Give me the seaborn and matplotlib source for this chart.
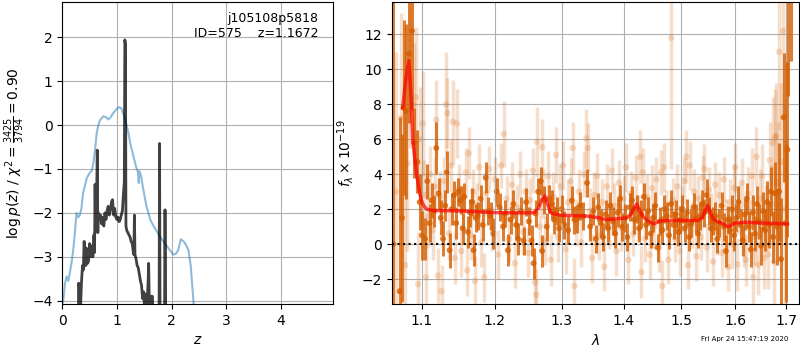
import matplotlib
matplotlib.use("Agg")
import numpy as np
import pandas as pd
import matplotlib.pyplot as plt
import seaborn as sns
from matplotlib.ticker import NullLocator

# ---------------- left panel: redshift PDF ----------------
z_pz = [0.295, 0.300, 0.310, 0.315, 0.33, 0.35, 0.37, 0.385, 0.40, 0.41, 0.43, 0.44, 0.46, 0.48,
        0.50, 0.52, 0.54, 0.56, 0.58, 0.59, 0.60, 0.61, 0.625, 0.64, 0.65, 0.66, 0.68, 0.70, 0.72,
        0.74, 0.76, 0.78, 0.80, 0.82, 0.84, 0.86, 0.88, 0.90, 0.92, 0.94, 0.96, 0.98, 1.00, 1.02,
        1.04, 1.06, 1.08, 1.10, 1.12, 1.135, 1.145, 1.155, 1.165, 1.18, 1.20, 1.22, 1.24, 1.26,
        1.28, 1.30, 1.31, 1.32, 1.33, 1.35, 1.37, 1.39, 1.41, 1.43, 1.45, 1.47, 1.49, 1.51, 1.53,
        1.55, 1.57, 1.58, 1.59, 1.61, 1.63, 1.65, 1.67, 1.77, 1.78, 1.79, 1.87, 1.88, 1.895]
logp_pz = [-5.0, -3.6, -3.7, -5.0, -4.3, -3.6, -3.2, -3.3, -2.65, -3.0, -3.2, -2.8, -3.15, -3.1,
           -2.7, -3.0, -2.75, -3.0, -2.5, -2.9, -1.35, -2.4, -1.9, -0.57, -2.45, -2.0, -2.15, -2.05,
           -2.25, -2.1, -2.3, -2.0, -2.15, -1.95, -1.85, -2.05, -1.95, -1.75, -1.7, -2.05, -1.9,
           -2.1, -2.15, -2.1, -2.2, -2.15, -2.05, -1.95, -1.55, -1.3, 1.94, 1.85, -2.3, -2.4, -2.45,
           -2.5, -2.55, -2.65, -2.7, -2.9, -2.95, -2.05, -2.95, -3.05, -3.2, -3.25, -3.4, -3.55,
           -3.65, -3.95, -3.8, -4.3, -3.85, -4.1, -3.6, -3.15, -3.85, -4.2, -3.9, -3.9, -5.0, -5.0,
           -0.42, -5.0, -5.0, -1.93, -5.0]

z_prior = [0.0, 0.02, 0.05, 0.08, 0.11, 0.14, 0.17, 0.20, 0.23, 0.26, 0.29, 0.32, 0.35, 0.38,
           0.45, 0.51, 0.54, 0.57, 0.60, 0.63, 0.66, 0.69, 0.75, 0.80, 0.84, 0.88, 0.93, 0.99,
           1.04, 1.08, 1.12, 1.16, 1.21, 1.25, 1.30, 1.35, 1.38, 1.40, 1.41, 1.44, 1.48, 1.54,
           1.61, 1.67, 1.73, 1.79, 1.85, 1.91, 1.97, 2.03, 2.08, 2.12, 2.17, 2.22, 2.26, 2.31,
           2.35, 2.40, 2.45]
logp_prior = [-4.1, -3.98, -3.6, -3.45, -3.55, -3.35, -3.13, -2.85, -2.45, -2.0, -2.1, -2.05,
              -1.9, -1.55, -1.2, -1.07, -1.04, -0.85, -0.55, -0.18, 0.0, 0.11, 0.2, 0.18, 0.13,
              0.17, 0.27, 0.36, 0.41, 0.38, 0.25, 0.08, -0.18, -0.45, -0.7, -0.95, -1.05, -1.32,
              -1.05, -1.15, -1.45, -1.85, -2.15, -2.3, -2.42, -2.55, -2.65, -2.75, -2.85, -2.95,
              -2.93, -2.85, -2.6, -2.65, -2.72, -2.85, -3.2, -4.0, -5.0]

# ---------------- right panel: spectrum ----------------
wave_dark = [1.063, 1.071, 1.074, 1.076, 1.079, 1.083, 1.087, 1.090, 1.094, 1.097,
             1.100, 1.104, 1.107, 1.110, 1.113, 1.116, 1.119, 1.122, 1.125, 1.128, 1.131, 1.133,
             1.137, 1.140, 1.143, 1.146, 1.149, 1.152, 1.155, 1.157, 1.162, 1.165, 1.168, 1.170,
             1.173, 1.176, 1.180, 1.183, 1.187, 1.191, 1.194, 1.198, 1.203, 1.207, 1.212, 1.215,
             1.219, 1.223, 1.227, 1.231, 1.234, 1.238, 1.242, 1.246, 1.250, 1.254, 1.257, 1.260,
             1.264, 1.268, 1.270, 1.273, 1.277, 1.281, 1.285, 1.288, 1.292, 1.296, 1.300, 1.304,
             1.310, 1.316, 1.320, 1.324, 1.329, 1.334, 1.340, 1.345, 1.350, 1.354, 1.358, 1.362,
             1.366, 1.370, 1.374, 1.378, 1.382, 1.386, 1.390, 1.394, 1.398, 1.402, 1.406, 1.410,
             1.414, 1.418, 1.422, 1.426, 1.430, 1.434, 1.438, 1.442, 1.446, 1.450, 1.454, 1.458,
             1.462, 1.466, 1.470, 1.474, 1.478, 1.482, 1.486, 1.490, 1.494, 1.498, 1.502, 1.506,
             1.510, 1.514, 1.518, 1.522, 1.526, 1.530, 1.534, 1.538, 1.542, 1.546, 1.550, 1.554,
             1.558, 1.562, 1.566, 1.570, 1.574, 1.578, 1.582, 1.586, 1.590, 1.594, 1.598, 1.602,
             1.606, 1.610, 1.614, 1.618, 1.622, 1.626, 1.630, 1.634, 1.638, 1.642, 1.646, 1.650,
             1.654, 1.658, 1.662, 1.666, 1.670, 1.674, 1.678, 1.682, 1.686, 1.690, 1.695, 1.699,
             1.703, 1.705, 1.710]
flux_dark = [0.0, -2.7, 1.5, 7.8, 7.6, 10.9, 12.2, 5.8, 4.7, 2.4,
             0.5, 0.3, 3.6, 1.2, 2.5, 1.9, 5.5, 2.9, 1.5, 0.3, 2.2, 4.1,
             -0.35, 2.0, 2.8, 1.2, 3.0, 2.5, 0.9, 2.7, 0.7, 1.8, 2.4, -0.35,
             1.5, 1.6, 2.6, 1.1, 3.8, 1.9, 1.6, 0.6, 3.0, 2.1, 1.0, 1.75,
             -0.35, 1.4, 2.3, 1.1, 0.3, 1.9, 0.2, 2.4, 1.3, 0.2, -1.1, 1.75,
             3.0, 3.6, -0.4, 2.5, 1.0, 2.6, 2.3, 1.4, 1.9, 0.9, 2.0, 1.1,
             0.8, 2.5, 1.4, 1.45, 2.2, 1.6, 3.5, 1.0, 1.9, 0.3, 2.1, 1.2,
             0.4, 1.7, 0.9, 2.2, 1.3, 0.6, 1.8, 2.6, 1.0, 1.5, 0.4, 2.1,
             2.5, 1.4, 2.0, 0.9, 1.7, 2.7, 1.1, 1.9, 0.6, 1.5, 2.2, -0.2,
             1.3, 0.8, 2.0, 1.6, 0.5, 2.3, 1.1, 1.7, 0.7, 1.4, 2.0, 0.9,
             1.8, 0.4, 1.2, 2.1, 1.5, 0.6, 1.6, 2.3, 1.8, 2.8, 1.9, 0.9,
             1.3, 1.6, 0.3, 1.2, 2.2, 1.0, -0.4, 1.4, 0.8, 2.0, 0.5, 1.5,
             2.4, 1.1, 0.2, 1.7, 2.6, 1.0, -0.3, 1.8, 0.6, 2.3, 1.3, -0.1,
             1.9, 0.8, 2.4, 1.1, 3.0, 0.4, 2.9, 1.0, 3.0, -0.86, 7.25, 1.2,
             5.4, 16.0, 17.0]
err_dark = [15.0, 10.0, 4.8, 5.0, 5.0, 4.0, 4.5, 2.0, 1.8, 1.6,
            1.4, 1.2, 1.0, 1.1, 1.0, 0.9, 1.5, 0.9, 1.0, 1.0, 0.9, 1.2,
            1.0, 0.9, 0.8, 0.9, 0.8, 0.8, 0.9, 0.8, 0.9, 0.8, 0.8, 0.9,
            0.8, 0.8, 0.8, 0.9, 0.9, 0.8, 0.8, 0.9, 0.8, 0.8, 0.8, 0.8,
            0.9, 0.8, 0.8, 0.8, 0.9, 0.8, 0.8, 0.8, 0.8, 0.9, 0.9, 0.8,
            0.8, 0.8, 0.9, 0.8, 0.8, 0.8, 0.8, 0.8, 0.8, 0.8, 0.8, 0.8,
            0.8, 0.8, 0.8, 0.8, 0.8, 0.8, 0.8, 0.8, 0.8, 0.8, 0.8, 0.8,
            0.8, 0.8, 0.8, 0.8, 0.8, 0.8, 0.8, 0.8, 0.8, 0.8, 0.8, 0.8,
            0.8, 0.8, 0.8, 0.8, 0.8, 0.8, 0.8, 0.8, 0.8, 0.8, 0.8, 0.8,
            0.8, 0.8, 0.8, 0.8, 0.8, 0.8, 0.8, 0.8, 0.8, 0.8, 0.8, 0.8,
            0.8, 0.8, 0.8, 0.8, 0.8, 0.8, 0.8, 0.8, 0.8, 0.9, 0.8, 0.8,
            0.8, 0.8, 0.8, 0.8, 0.8, 0.8, 0.9, 0.8, 0.8, 0.8, 0.9, 0.8,
            0.9, 0.9, 0.9, 0.9, 0.9, 0.9, 1.0, 1.0, 1.0, 1.0, 1.0, 1.1,
            1.1, 1.2, 1.2, 1.3, 1.4, 1.5, 1.8, 2.2, 2.8, 3.5, 3.7, 4.5,
            5.0, 7.5, 6.5]

wave_light = [1.066, 1.073, 1.078, 1.081, 1.085, 1.089, 1.092, 1.095, 1.098, 1.101, 1.103,
              1.105, 1.108, 1.111, 1.114, 1.117, 1.119, 1.121, 1.124, 1.126, 1.129, 1.132, 1.134,
              1.136, 1.139, 1.141, 1.144, 1.147, 1.150, 1.153, 1.156, 1.159, 1.161, 1.163, 1.166,
              1.169, 1.172, 1.175, 1.178, 1.181, 1.185, 1.188, 1.192, 1.196, 1.200, 1.205, 1.209,
              1.213, 1.217, 1.221, 1.225, 1.229, 1.233, 1.237, 1.241, 1.245, 1.249, 1.252, 1.256,
              1.259, 1.261, 1.262, 1.266, 1.270, 1.272, 1.275, 1.279, 1.283, 1.287, 1.291, 1.294,
              1.298, 1.302, 1.306, 1.310, 1.314, 1.317, 1.320, 1.323, 1.327, 1.331, 1.335, 1.339,
              1.341, 1.344, 1.348, 1.352, 1.356, 1.360, 1.364, 1.368, 1.372, 1.376, 1.380, 1.384,
              1.388, 1.392, 1.396, 1.400, 1.404, 1.408, 1.412, 1.416, 1.420, 1.424, 1.428, 1.430,
              1.432, 1.436, 1.440, 1.444, 1.448, 1.452, 1.456, 1.460, 1.464, 1.466, 1.469, 1.473,
              1.477, 1.482, 1.485, 1.489, 1.493, 1.497, 1.501, 1.505, 1.509, 1.512, 1.515, 1.519,
              1.523, 1.527, 1.531, 1.535, 1.539, 1.542, 1.546, 1.550, 1.554, 1.558, 1.562, 1.566,
              1.570, 1.574, 1.578, 1.582, 1.586, 1.590, 1.594, 1.598, 1.600, 1.604, 1.608, 1.612,
              1.616, 1.620, 1.624, 1.628, 1.632, 1.634, 1.638, 1.641, 1.644, 1.648, 1.652, 1.656,
              1.660, 1.664, 1.667, 1.670, 1.673, 1.676, 1.678, 1.680, 1.683, 1.686, 1.690, 1.694,
              1.698]
flux_light = [3.0, 7.2, -1.2, 4.6, 9.5, 8.0, 8.4, -2.3, 6.0, 6.9, 2.8,
              -1.9, 1.6, 4.0, 0.8, 3.3, 7.1, -1.8, 2.7, -2.7, 3.6, 8.0, 7.5,
              0.6, 4.5, 7.0, -0.8, 6.9, 3.2, -0.4, 1.9, 4.1, -1.5, 5.2, 0.5,
              3.0, -2.1, 2.2, 4.4, 0.1, -1.9, 2.9, 4.3, 0.9, 3.7, -0.6, 4.5,
              6.3, 2.6, 0.3, 3.4, -1.1, 2.1, 4.0, 0.7, 3.0, -0.5, 2.5, 4.2,
              -2.2, -2.9, 5.85, 1.0, 5.55, 2.9, 0.2, 3.9, -0.9, 2.7, 5.1, 0.4,
              3.3, 4.5, -0.3, 2.4, 3.6, 5.5, -2.4, 1.2, 3.0, 0.1, 4.0, 6.05,
              5.5, 1.9, -0.8, 2.8, 3.9, 0.5, 2.4, -1.3, 3.3, 1.0, 4.2, 2.2,
              -0.4, 3.5, 0.9, 2.6, 4.4, -0.9, 2.9, 0.6, 3.8, 1.5, 5.0, -1.6,
              4.1, 0.3, 2.7, -0.6, 3.2, 1.0, 3.7, -0.2, 4.1, -2.4, 4.4, 1.8,
              -0.9, 11.8, 2.5, 0.3, 3.3, -0.4, 2.0, 3.6, 5.0, -1.2, 4.5, 1.1,
              3.0, -0.7, 2.6, 0.4, 3.8, 4.3, -0.2, 3.1, 1.6, -1.0, 3.4, 0.7,
              2.8, -0.5, 3.7, 1.3, -1.3, 2.4, 0.0, 3.2, 4.4, -1.16, 2.0, 3.5,
              0.2, -0.9, 2.9, 1.0, 3.9, -1.9, 0.4, 5.0, -1.2, 2.6, 3.9, -0.8,
              1.5, -0.6, 4.8, 2.3, 5.8, -1.0, 6.1, 6.2, 3.5, 11.0, 4.7, 12.2,
              2.0]
err_light = [8.0, 6.0, 5.0, 5.0, 4.0, 3.5, 4.0, 3.0, 3.0, 3.0, 2.0,
             2.0, 1.8, 1.6, 1.7, 1.6, 2.3, 1.6, 1.5, 1.5, 1.4, 3.0, 2.0,
             1.5, 1.5, 2.4, 1.5, 2.0, 1.4, 1.5, 1.4, 1.4, 1.5, 1.5, 1.4,
             1.3, 1.4, 1.3, 1.3, 1.4, 1.4, 1.3, 1.3, 1.3, 1.3, 1.4, 1.3,
             1.9, 1.3, 1.3, 1.3, 1.4, 1.3, 1.3, 1.3, 1.3, 1.4, 1.3, 1.3,
             1.5, 1.5, 2.0, 1.4, 1.6, 1.4, 1.4, 1.4, 1.5, 1.4, 1.6, 1.4,
             1.3, 1.4, 1.4, 1.3, 1.3, 1.5, 1.6, 1.3, 1.3, 1.4, 1.3, 1.7,
             1.4, 1.3, 1.4, 1.3, 1.3, 1.4, 1.3, 1.4, 1.3, 1.3, 1.3, 1.3,
             1.4, 1.3, 1.3, 1.3, 1.4, 1.4, 1.3, 1.3, 1.3, 1.3, 1.5, 1.5,
             1.4, 1.3, 1.3, 1.4, 1.3, 1.3, 1.3, 1.4, 1.3, 1.5, 1.4, 1.3,
             1.4, 7.5, 1.3, 1.3, 1.3, 1.4, 1.3, 1.3, 1.5, 1.4, 1.4, 1.3,
             1.3, 1.4, 1.3, 1.3, 1.3, 1.4, 1.4, 1.3, 1.3, 1.4, 1.3, 1.3,
             1.3, 1.4, 1.3, 1.3, 1.4, 1.3, 1.4, 1.4, 1.4, 1.5, 1.4, 1.4,
             1.5, 1.5, 1.5, 1.5, 1.6, 1.7, 1.6, 1.7, 1.7, 1.7, 1.8, 1.8,
             1.9, 2.0, 2.2, 2.3, 2.6, 2.6, 2.8, 3.0, 3.5, 4.5, 4.5, 5.0,
             6.0]

wave_model = [1.075, 1.079, 1.083, 1.086, 1.088, 1.093, 1.097, 1.100, 1.103, 1.107, 1.115,
              1.15, 1.20, 1.24, 1.258, 1.265, 1.270, 1.274, 1.278, 1.283, 1.29, 1.30, 1.34,
              1.36, 1.37, 1.39, 1.405, 1.412, 1.418, 1.422, 1.426, 1.432, 1.44, 1.452, 1.46,
              1.47, 1.50, 1.53, 1.538, 1.543, 1.548, 1.552, 1.558, 1.565, 1.575, 1.585, 1.59,
              1.60, 1.62, 1.65, 1.68, 1.703]
flux_model = [7.8, 9.5, 10.5, 8.2, 5.9, 4.0, 2.9, 2.4, 2.15, 1.98, 1.92,
              1.9, 1.8, 1.78, 1.8, 2.1, 2.6, 2.75, 2.3, 1.8, 1.7, 1.65, 1.6,
              1.5, 1.4, 1.45, 1.5, 1.7, 2.1, 2.3, 2.0, 1.6, 1.35, 1.15, 1.3,
              1.35, 1.35, 1.35, 1.5, 1.9, 2.2, 1.9, 1.45, 1.3, 1.2, 1.0, 1.05,
              1.2, 1.25, 1.2, 1.18, 1.15]

wave_ticks = [1.1, 1.2, 1.3, 1.4, 1.5, 1.6, 1.7]
wave_ticklabels = ["1.1", "1.2", "1.3", "1.4", "1.5", "1.6", "1.7"]

# ---------------- figure ----------------
fig = plt.figure(figsize=(8, 3.5), dpi=100)
ax1 = fig.add_axes([62.3 / 800, 46 / 350, 271 / 800, 302.3 / 350])
ax2 = fig.add_axes([391.7 / 800, 46 / 350, 407.6 / 800, 302.3 / 350])

df_prior = pd.DataFrame({"z": z_prior, "logp": logp_prior})
df_pz = pd.DataFrame({"z": z_pz, "logp": logp_pz})
sns.lineplot(data=df_prior, x="z", y="logp", ax=ax1, color="C0", alpha=0.5, lw=1.5,
             sort=False, estimator=None)
sns.lineplot(data=df_pz, x="z", y="logp", ax=ax1, color="k", alpha=0.75, lw=2,
             sort=False, estimator=None)
ax1.set_xlim(0, 4.96)
ax1.set_ylim(-4.075, 2.81)
ax1.set_xticks([0, 1, 2, 3, 4])
ax1.set_yticks([-4, -3, -2, -1, 0, 1, 2])
ax1.grid(True, color="#b0b0b0", lw=0.8)
ax1.set_xlabel(r"$z$")
ax1.set_ylabel(r"$\log p(z)$ / $\chi^2=\frac{3425}{3794}=0.90$")
ax1.text(0.945, 0.965, "j105108p5818\nID=575    z=1.1672", transform=ax1.transAxes,
         ha="right", va="top", fontsize=9)

orange = sns.color_palette("colorblind")[3]
ax2.set_xscale("log")
ax2.errorbar(wave_light, flux_light, yerr=err_light, fmt="none", ecolor=orange,
             alpha=0.2, elinewidth=2.5)
sns.scatterplot(x=wave_light, y=flux_light, ax=ax2, color=orange, alpha=0.2, s=22,
                edgecolor="none")
ax2.errorbar(wave_dark, flux_dark, yerr=err_dark, fmt="none", ecolor=orange,
             alpha=0.8, elinewidth=2.2)
sns.scatterplot(x=wave_dark, y=flux_dark, ax=ax2, color=orange, alpha=0.8, s=18,
                edgecolor="none")
df_model = pd.DataFrame({"wave": wave_model, "flux": flux_model})
sns.lineplot(data=df_model, x="wave", y="flux", ax=ax2, color="r", alpha=0.7, lw=2.5,
             sort=False, estimator=None)
ax2.axhline(0, color="k", ls=":", lw=1.5)
ax2.set_xlim(1.0609, 1.7272)
ax2.set_ylim(-3.43, 13.87)
ax2.set_xticks(wave_ticks)
ax2.set_xticklabels(wave_ticklabels)
ax2.xaxis.set_minor_locator(NullLocator())
ax2.set_yticks([-2, 0, 2, 4, 6, 8, 10, 12])
ax2.grid(True, color="#b0b0b0", lw=0.8)
ax2.set_xlabel(r"$\lambda$")
ax2.set_ylabel(r"$f_\lambda \times 10^{-19}$")

fig.text(788 / 800, 11 / 350, "Fri Apr 24 15:47:19 2020", ha="right", va="center", fontsize=5)

fig.savefig("out.png", dpi=100)
